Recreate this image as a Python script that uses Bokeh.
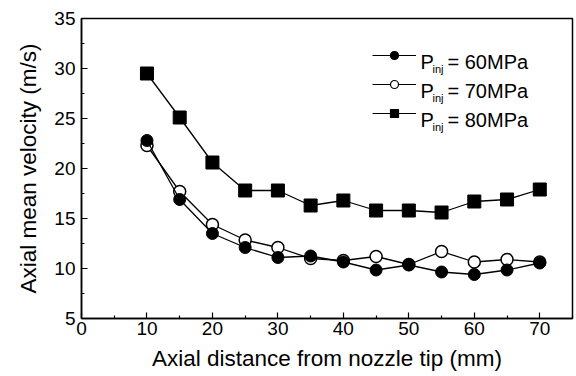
from bokeh.plotting import figure
from bokeh.models import (FixedTicker, Range1d, Legend, LegendItem, Label)
from bokeh.embed import file_html
from bokeh.resources import INLINE

# ---------------- data ----------------
distance_mm = [10, 15, 20, 25, 30, 35, 40, 45, 50, 55, 60, 65, 70]
vel_60MPa = [22.8, 16.9, 13.5, 12.1, 11.1, 11.25, 10.65, 9.85, 10.35, 9.65, 9.4, 9.85, 10.55]
vel_70MPa = [22.3, 17.7, 14.4, 12.85, 12.1, 11.0, 10.8, 11.2, 10.4, 11.7, 10.65, 10.9, 10.65]
vel_80MPa = [29.5, 25.1, 20.6, 17.8, 17.8, 16.3, 16.8, 15.8, 15.8, 15.6, 16.7, 16.9, 17.9]

x_ticks = [0, 10, 20, 30, 40, 50, 60, 70]
x_minor = [5, 15, 25, 35, 45, 55, 65, 75]
y_ticks = [5, 10, 15, 20, 25, 30, 35]
y_minor = [7.5, 12.5, 17.5, 22.5, 27.5, 32.5]

legend_values = ["= 60MPa", "= 70MPa", "= 80MPa"]

FONT = "Liberation Sans"
NAN = float("nan")

p = figure(width=576, height=376, output_backend="svg", toolbar_location=None,
           x_range=Range1d(0, 75), y_range=Range1d(5, 35),
           min_border_left=81, min_border_right=4, min_border_top=18,
           min_border_bottom=58)
p.grid.visible = False
p.outline_line_color = "black"
p.outline_line_width = 1.5
p.background_fill_color = "white"
p.border_fill_color = "white"

for ax in (p.xaxis[0], p.yaxis[0]):
    ax.axis_line_color = "black"
    ax.axis_line_width = 1.5
    ax.major_tick_in = 6
    ax.major_tick_out = 0
    ax.minor_tick_in = 3
    ax.minor_tick_out = 0
    ax.major_tick_line_color = "black"
    ax.minor_tick_line_color = "black"
    ax.major_tick_line_width = 1.2
    ax.minor_tick_line_width = 1.2
    ax.major_label_text_font = FONT
    ax.major_label_text_font_size = "19px"
    ax.major_label_text_color = "black"
    ax.axis_label_text_font = FONT
    ax.axis_label_text_font_size = "22.5px"
    ax.axis_label_text_font_style = "normal"
    ax.axis_label_text_color = "black"

p.xaxis.ticker = FixedTicker(ticks=x_ticks, minor_ticks=x_minor)
p.yaxis.ticker = FixedTicker(ticks=y_ticks, minor_ticks=y_minor)
p.xaxis.axis_label = "Axial distance from nozzle tip (mm)"
p.yaxis.axis_label = "Axial mean velocity (m/s)"
p.xaxis.major_label_standoff = 3
p.xaxis.axis_label_standoff = 8
p.yaxis.major_label_standoff = 6
p.yaxis.axis_label_standoff = 10

LW = 1.3
# 80 MPa
p.line(distance_mm, vel_80MPa, line_color="black", line_width=LW)
p.scatter(distance_mm, vel_80MPa, marker="square", size=13,
          fill_color="black", line_color="black")
# 70 MPa
p.line(distance_mm, vel_70MPa, line_color="black", line_width=LW)
p.scatter(distance_mm, vel_70MPa, marker="circle", size=12,
          fill_color="white", line_color="black", line_width=1.5)
# 60 MPa
p.line(distance_mm, vel_60MPa, line_color="black", line_width=LW)
p.scatter(distance_mm, vel_60MPa, marker="circle", size=12,
          fill_color="black", line_color="black")

# legend samples (smaller markers, as in the reference); undrawn NaN points
items = []
for mk, fc in (("circle", "black"), ("circle", "white"), ("square", "black")):
    lr = p.line([NAN], [NAN], line_color="black", line_width=1.2)
    sr = p.scatter([NAN], [NAN], marker=mk, size=8,
                   fill_color=fc, line_color="black", line_width=1.2)
    items.append(LegendItem(label="x", renderers=[lr, sr]))

GLYPH_H = 20
ROW_GAP = 9
legend = Legend(items=items, location=(291, 195.5), padding=0, margin=0,
                spacing=ROW_GAP, glyph_width=44, glyph_height=GLYPH_H,
                label_height=GLYPH_H, label_text_font_size="8px",
                label_text_alpha=0,
                background_fill_alpha=0, border_line_alpha=0,
                label_standoff=0, label_width=1)
p.add_layout(legend, "center")

row_y = [263.5 - i * (GLYPH_H + ROW_GAP) for i in range(3)]
for val, yc in zip(legend_values, row_y):
    p.add_layout(Label(x=339, y=yc - 7, x_units="screen", y_units="screen",
                       text="P", text_font=FONT, text_font_size="20px",
                       text_color="black", text_baseline="alphabetic"))
    p.add_layout(Label(x=351, y=yc - 14, x_units="screen", y_units="screen",
                       text="inj", text_font=FONT, text_font_size="11px",
                       text_color="black", text_baseline="alphabetic"))
    p.add_layout(Label(x=366, y=yc - 7, x_units="screen", y_units="screen",
                       text=val, text_font=FONT, text_font_size="20px",
                       text_color="black", text_baseline="alphabetic"))

open("out.html", "w").write(file_html(p, INLINE))
